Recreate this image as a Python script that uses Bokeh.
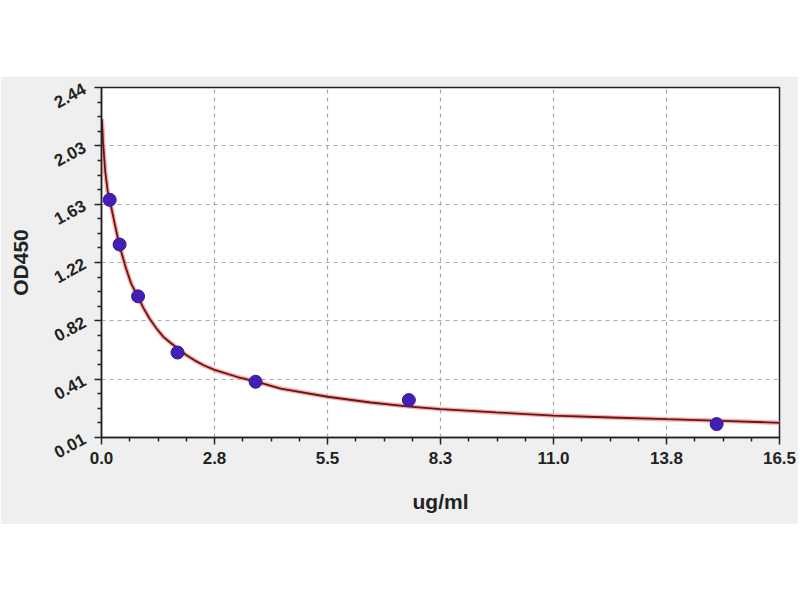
import math
from bokeh.plotting import figure
from bokeh.models import FixedTicker, Range1d, Spacer
from bokeh.layouts import column
from bokeh.embed import file_html
from bokeh.resources import INLINE

# ---- data ----
std_x = [0.20, 0.44, 0.89, 1.85, 3.75, 7.48, 14.97]
std_y = [1.66, 1.35, 0.99, 0.60, 0.397, 0.27, 0.103]

curve_x = [0.01, 0.04, 0.09, 0.15, 0.20, 0.31, 0.43, 0.51, 0.59, 0.72, 0.88,
           1.02, 1.16, 1.33, 1.50, 1.67, 1.85, 2.05, 2.30, 2.50, 2.75, 3.31,
           3.75, 4.36, 5.50, 6.55, 7.50, 8.25, 9.60, 11.0, 12.4, 13.75, 15.1,
           16.5]
curve_y = [2.22, 2.05, 1.86, 1.72, 1.66, 1.51, 1.35, 1.27, 1.19, 1.08, 0.99,
           0.91, 0.84, 0.77, 0.71, 0.67, 0.63, 0.585, 0.54, 0.51, 0.48, 0.43,
           0.40, 0.35, 0.293, 0.253, 0.225, 0.207, 0.184, 0.162, 0.149, 0.137,
           0.126, 0.112]

x_ticks = [0.0, 2.75, 5.5, 8.25, 11.0, 13.75, 16.5]
x_tick_labels = ["0.0", "2.8", "5.5", "8.3", "11.0", "13.8", "16.5"]
y_ticks = [0.01, 0.415, 0.82, 1.225, 1.63, 2.035, 2.44]
y_tick_labels = ["0.01", "0.41", "0.82", "1.22", "1.63", "2.03", "2.44"]

x_title = "ug/ml"
y_title = "OD450"


def minors(ticks, n=4):
    out = []
    for a, b in zip(ticks[:-1], ticks[1:]):
        for k in range(1, n):
            out.append(a + (b - a) * k / n)
    return out


p = figure(frame_width=678, frame_height=350,
           x_range=Range1d(0, 16.5), y_range=Range1d(0.01, 2.44),
           output_backend="svg", toolbar_location=None,
           min_border_left=101, min_border_right=19,
           min_border_top=11, min_border_bottom=87)

p.border_fill_color = "#efefef"
p.background_fill_color = "white"
p.outline_line_color = "#222222"
p.outline_line_width = 1.5

xt = FixedTicker(ticks=x_ticks, minor_ticks=minors(x_ticks))
yt = FixedTicker(ticks=y_ticks, minor_ticks=minors(y_ticks))
p.xaxis.ticker = xt
p.yaxis.ticker = yt
p.xaxis.major_label_overrides = {t: l for t, l in zip(x_ticks, x_tick_labels)}
p.yaxis.major_label_overrides = {t: l for t, l in zip(y_ticks, y_tick_labels)}

for ax in (p.xaxis, p.yaxis):
    ax.axis_line_color = "#222222"
    ax.axis_line_width = 1.5
    ax.major_tick_line_color = "#222222"
    ax.minor_tick_line_color = "#222222"
    ax.major_tick_line_width = 1.5
    ax.minor_tick_line_width = 1.5
    ax.major_tick_out = 7
    ax.major_tick_in = 0
    ax.minor_tick_out = 4
    ax.minor_tick_in = 0
    ax.major_label_text_font = "Liberation Sans"
    ax.major_label_text_font_style = "bold"
    ax.major_label_text_font_size = "17px"
    ax.major_label_text_color = "#222222"
    ax.axis_label_text_font = "Liberation Sans"
    ax.axis_label_text_font_style = "bold"
    ax.axis_label_text_font_size = "21px"
    ax.axis_label_text_color = "#222222"

p.yaxis.major_label_orientation = 0.5
p.xaxis.axis_label = x_title
p.yaxis.axis_label = y_title
p.xaxis.major_label_standoff = 7
p.yaxis.major_label_standoff = 10
p.xaxis.axis_label_standoff = 23
p.yaxis.axis_label_standoff = 15

for g in (p.xgrid, p.ygrid):
    g.grid_line_color = "#a8a8a8"
    g.grid_line_dash = "4 4"
    g.grid_line_width = 1.2

p.line(curve_x, curve_y, line_color="#f29a9a", line_width=4.5, line_alpha=0.8)
p.line(curve_x, curve_y, line_color="#6a1414", line_width=1.8)
p.scatter(std_x, std_y, size=13, fill_color="#4320b4", line_color="#36189a",
          line_width=1)

layout = column(Spacer(height=76), p)
open("out.html", "w").write(file_html(layout, INLINE))
